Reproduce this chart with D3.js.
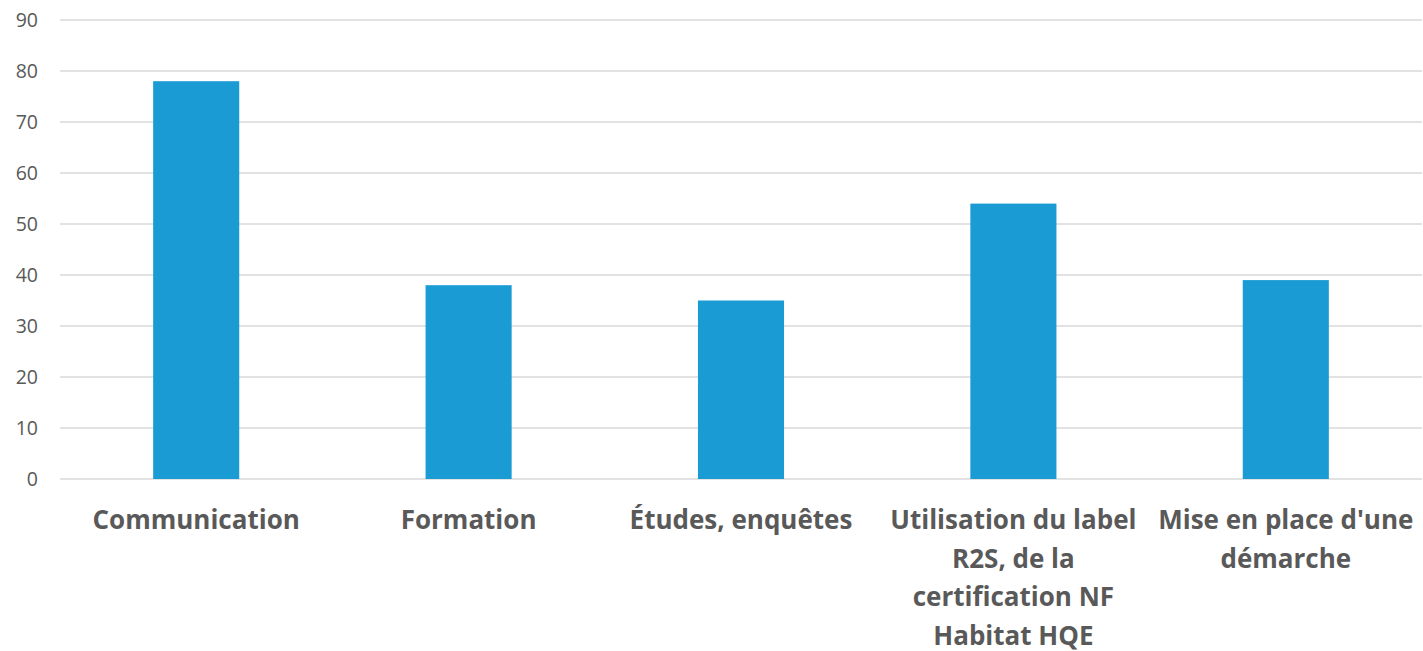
<!DOCTYPE html>
<html>
<head>
<meta charset="utf-8">
<script src="https://cdn.jsdelivr.net/npm/d3@7"></script>
<style>
  body { margin: 0; background: #fff; }
  svg text { font-family: "Open Sans", sans-serif; }
</style>
</head>
<body>
<svg id="chart" width="1423" height="651"></svg>
<script>
// DATA
var categories = ["Communication", "Formation", "Études, enquêtes",
                  "Utilisation du label R2S, de la certification NF Habitat HQE",
                  "Mise en place d'une démarche"];
var values = [78, 38, 35, 54, 39];
var yTicks = [0, 10, 20, 30, 40, 50, 60, 70, 80, 90];

// LAYOUT
var width = 1423, height = 651;
var margin = {top: 20, right: 1, bottom: 172, left: 60};
var svg = d3.select("#chart");

var xScale = d3.scaleBand()
  .domain(categories)
  .range([margin.left, width - margin.right])
  .paddingInner(0.684)
  .paddingOuter(0.342);

var yScale = d3.scaleLinear()
  .domain([0, 90])
  .range([height - margin.bottom, margin.top]);

// GRIDLINES
svg.append("g").attr("class", "grid")
  .selectAll("line").data(yTicks)
  .enter().append("line")
  .attr("x1", margin.left)
  .attr("x2", width - margin.right)
  .attr("y1", function(d){ return yScale(d); })
  .attr("y2", function(d){ return yScale(d); })
  .attr("stroke", "#d9d9d9")
  .attr("stroke-width", 1.5);

// Y AXIS LABELS
var yAxis = d3.axisLeft(yScale).tickValues(yTicks).tickSize(0).tickPadding(22);
var yG = svg.append("g")
  .attr("transform", "translate(" + margin.left + ",0)")
  .call(yAxis);
yG.select(".domain").remove();
yG.selectAll("text")
  .attr("fill", "#595959")
  .style("font-size", "19.5px")
  .attr("text-anchor", "end");

// BARS
svg.append("g").attr("class", "bars")
  .selectAll("rect").data(values)
  .enter().append("rect")
  .attr("x", function(d, i){ return xScale(categories[i]); })
  .attr("width", xScale.bandwidth())
  .attr("y", function(d){ return yScale(d); })
  .attr("height", function(d){ return yScale(0) - yScale(d); })
  .attr("fill", "#1a9bd4");

// CATEGORY LABELS (wrapped to band width)
var step = xScale.step();
var labels = svg.append("g").attr("class", "xlabels")
  .selectAll("text").data(categories)
  .enter().append("text")
  .attr("x", function(d){ return xScale(d) + xScale.bandwidth() / 2; })
  .attr("y", yScale(0) + 50)
  .attr("text-anchor", "middle")
  .attr("fill", "#595959")
  .style("font-size", "26px")
  .style("font-weight", "bold");

labels.each(function(d){
  var text = d3.select(this);
  var x = text.attr("x");
  var words = d.split(" ");
  var line = [];
  var tspan = text.append("tspan").attr("x", x).attr("dy", 0);
  words.forEach(function(w){
    line.push(w);
    tspan.text(line.join(" "));
    if (tspan.node().getComputedTextLength() > step - 4 && line.length > 1) {
      line.pop();
      tspan.text(line.join(" "));
      line = [w];
      tspan = text.append("tspan").attr("x", x).attr("dy", 38.5).text(w);
    }
  });
});
</script>
</body>
</html>
